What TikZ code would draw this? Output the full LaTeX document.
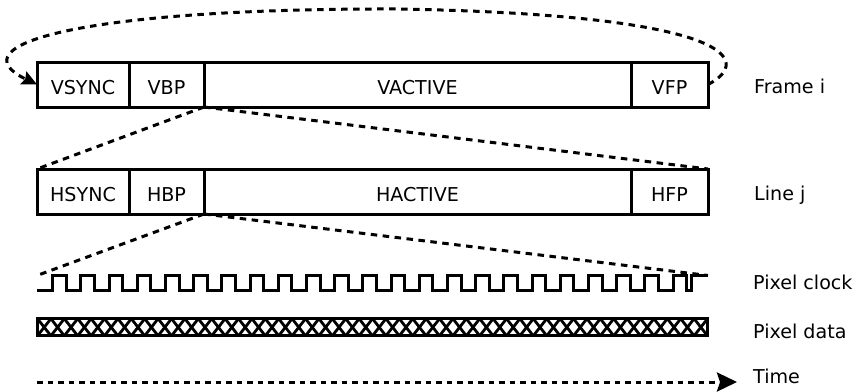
\documentclass[tikz,border=0pt]{standalone}
\usepackage{fontspec}
\setmainfont{DejaVu Sans}
\usetikzlibrary{arrows.meta}
\begin{document}
\begin{tikzpicture}[x=1pt,y=-1pt,
  every node/.style={font=\fontsize{19.1}{22}\selectfont},
  cell/.style={draw, line width=3pt, minimum height=45pt, inner sep=0pt, outer sep=0pt, text height=19.8pt, text depth=0pt},
  dsh/.style={line width=3pt, dash pattern=on 6.5pt off 5.5pt},
  tdsh/.style={line width=3pt, dash pattern=on 5.5pt off 5pt},
  side/.style={anchor=base west, inner sep=0pt},
  clk/.style={line width=3pt, line join=miter},
  hatch/.style={line width=2.8pt}]
\useasboundingbox (0,0) rectangle (858,391);
% frame row
\node[cell, minimum width=92pt]  (vsync)   at (83,84.5)    {VSYNC};
\node[cell, minimum width=75pt]  (vbp)     at (166.5,84.5) {VBP};
\node[cell, minimum width=427pt] (vactive) at (417.5,84.5) {VACTIVE};
\node[cell, minimum width=77pt]  (vfp)     at (669.5,84.5) {VFP};
% line row
\node[cell, minimum width=92pt]  (hsync)   at (83,191.5)    {HSYNC};
\node[cell, minimum width=75pt]  (hbp)     at (166.5,191.5) {HBP};
\node[cell, minimum width=427pt] (hactive) at (417.5,191.5) {HACTIVE};
\node[cell, minimum width=77pt]  (hfp)     at (669.5,191.5) {HFP};
% side labels
\node[side] (lframe) at (754,93)  {Frame i};
\node[side] (lline)  at (754,200) {Line j};
\node[side] (lclk)   at (753,289) {Pixel clock};
\node[side] (ldata)  at (753,338) {Pixel data};
\node[side] (ltime)  at (753,383) {Time};
% loop
\draw[dsh, -{Stealth[length=15pt,width=14pt,inset=2pt]}] (vfp.east) .. controls (755,60) and (730,15) .. (400,9) .. controls (80,8) and (-45,45) .. (vsync.west);
% zoom lines
\coordinate (clkL) at (37,275.5);
\coordinate (clkR) at (708,275.5);
\draw[dsh] (vbp.south east) -- (hsync.north west);
\draw[dsh] (vbp.south east) -- (hfp.north east);
\draw[dsh] (hbp.south east) -- (clkL);
\draw[dsh] (hbp.south east) -- (clkR);
% pixel clock
\draw[clk] (37,290.7) \foreach \k in {0,...,22} { -- ({52.7+28.2*\k},290.7) -- ({52.7+28.2*\k},275.5) -- ({66.2+28.2*\k},275.5) -- ({66.2+28.2*\k},290.7) } -- (691,290.7) -- (691,275.5) -- (708,275.5);
% pixel data
\begin{scope}
\clip (37.5,318.7) rectangle (707.5,335.8);
\foreach \k in {-1,...,50} {
  \draw[hatch] ({37.5+13.4*\k},318.7) -- ({37.5+13.4*(\k+1)},335.8);
  \draw[hatch] ({37.5+13.4*\k},335.8) -- ({37.5+13.4*(\k+1)},318.7);
}
\end{scope}
\draw[line width=2.8pt] (37.5,318.7) rectangle (707.5,335.8);
% time
\coordinate (t0) at (37,382);
\coordinate (t1) at (737,382);
\draw[tdsh, -{Stealth[length=20pt,width=19pt,inset=3pt]}] (t0) -- (t1);
\end{tikzpicture}
\end{document}
